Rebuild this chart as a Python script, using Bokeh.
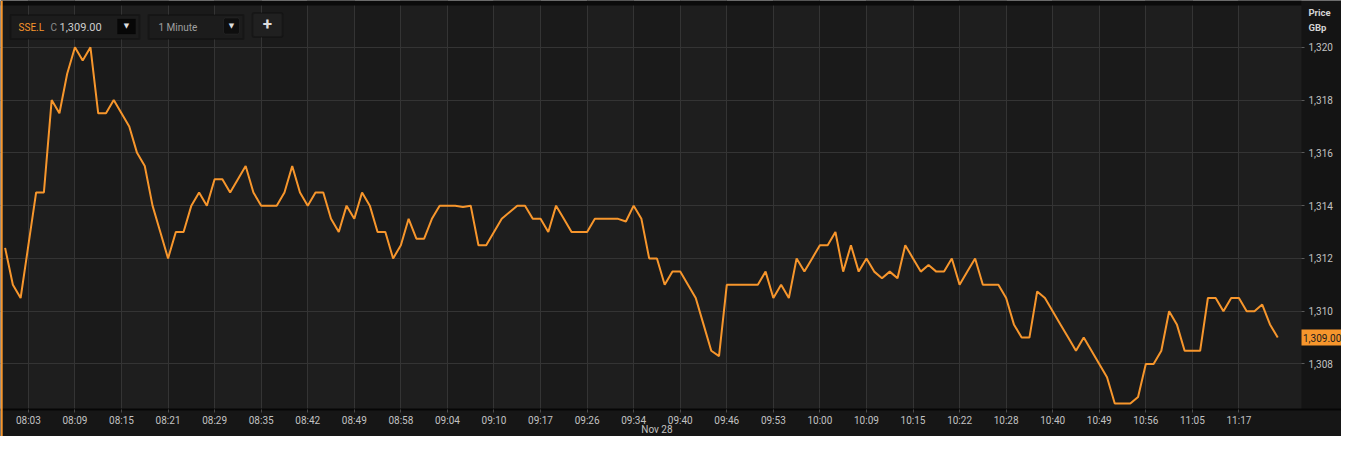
from bokeh.plotting import figure
from bokeh.models import (FixedTicker, NumeralTickFormatter, Label, BoxAnnotation, Span,
                          LinearAxis, Grid)
from bokeh.embed import file_html
from bokeh.resources import INLINE

# ---------------- data ----------------
symbol = "SSE.L"
interval_label = "1 Minute"
date_label = "Nov 28"
date_label_index = 84
unit_label = ["Price", "GBp"]

prices = [
    1312.4, 1311.0, 1310.5, 1312.5, 1314.5, 1314.5, 1318.0, 1317.5, 1319.0, 1320.0,
    1319.5, 1320.0, 1317.5, 1317.5, 1318.0, 1317.5, 1317.0, 1316.0, 1315.5, 1314.0,
    1313.0, 1312.0, 1313.0, 1313.0, 1314.0, 1314.5, 1314.0, 1315.0, 1315.0, 1314.5,
    1315.0, 1315.5, 1314.5, 1314.0, 1314.0, 1314.0, 1314.5, 1315.5, 1314.5, 1314.0,
    1314.5, 1314.5, 1313.5, 1313.0, 1314.0, 1313.5, 1314.5, 1314.0, 1313.0, 1313.0,
    1312.0, 1312.5, 1313.5, 1312.75, 1312.75, 1313.5, 1314.0, 1314.0, 1314.0, 1313.95,
    1314.0, 1312.5, 1312.5, 1313.0, 1313.5, 1313.75, 1314.0, 1314.0, 1313.5, 1313.5,
    1313.0, 1314.0, 1313.5, 1313.0, 1313.0, 1313.0, 1313.5, 1313.5, 1313.5, 1313.5,
    1313.4, 1314.0, 1313.5, 1312.0, 1312.0, 1311.0, 1311.5, 1311.5, 1311.0, 1310.5,
    1309.5, 1308.5, 1308.3, 1311.0, 1311.0, 1311.0, 1311.0, 1311.0, 1311.5, 1310.5,
    1311.0, 1310.5, 1312.0, 1311.5, 1312.0, 1312.5, 1312.5, 1313.0, 1311.5, 1312.5,
    1311.5, 1312.0, 1311.5, 1311.25, 1311.5, 1311.25, 1312.5, 1312.0, 1311.5, 1311.75,
    1311.5, 1311.5, 1312.0, 1311.0, 1311.5, 1312.0, 1311.0, 1311.0, 1311.0, 1310.5,
    1309.5, 1309.0, 1309.0, 1310.75, 1310.5, 1310.0, 1309.5, 1309.0, 1308.5, 1309.0,
    1308.5, 1308.0, 1307.5, 1306.5, 1306.5, 1306.5, 1306.75, 1308.0, 1308.0, 1308.5,
    1310.0, 1309.5, 1308.5, 1308.5, 1308.5, 1310.5, 1310.5, 1310.0, 1310.5, 1310.5,
    1310.0, 1310.0, 1310.25, 1309.5, 1309.0,
]

tick_labels = [
    "08:03", "08:09", "08:15", "08:21", "08:29", "08:35", "08:42", "08:49", "08:58",
    "09:04", "09:10", "09:17", "09:26", "09:34", "09:40", "09:46", "09:53", "10:00",
    "10:09", "10:15", "10:22", "10:28", "10:40", "10:49", "10:56", "11:05", "11:17",
]
first_tick_index = 3
bars_per_tick = 6

price_ticks = [1308, 1310, 1312, 1314, 1316, 1318, 1320]

# ---------------- derived ----------------
x = list(range(len(prices)))
tick_positions = [first_tick_index + bars_per_tick * i for i in range(len(tick_labels))]
last_price = prices[-1]

# ---------------- layout (pixels) ----------------
W, H = 1341, 436
PLOT_RIGHT_PX = 1301      # right edge of the price area
PLOT_BOTTOM_PX = 409      # bottom edge of the price area
PLOT_TOP_PX = 5
DATE_LABEL_PX = 428.5
X0_PX, PX_PER_BAR = 4.6, 7.76
YREF_PX, PX_PER_UNIT = 46.8, 26.39
YREF_VAL = price_ticks[-1]
MARKER_HALF_PX = 8


def xd(px):
    return (px - X0_PX) / PX_PER_BAR


def yd(py):
    return YREF_VAL - (py - YREF_PX) / PX_PER_UNIT


ORANGE = "#f7962c"
FONT = "Roboto"
LABEL_COLOR = "#c2c2c2"

p = figure(width=W, height=H, output_backend="svg", toolbar_location=None,
           x_range=(xd(0), xd(W)), y_range=(yd(H), yd(0)),
           x_axis_location=None, y_axis_location=None, min_border=0)
p.background_fill_color = "#1a1a1a"
p.border_fill_color = "#151515"
p.outline_line_color = None
for g in p.grid:
    g.visible = False

# alternating column bands (below the grid)
for k in range(0, len(tick_positions), 2):
    left = tick_positions[k]
    right = tick_positions[k + 1] if k + 1 < len(tick_positions) else xd(PLOT_RIGHT_PX)
    p.add_layout(BoxAnnotation(left=left, right=right, fill_color="#1e1e1e",
                               fill_alpha=1, line_alpha=0, level="image"))

# grids
p.add_layout(Grid(dimension=0, ticker=FixedTicker(ticks=tick_positions),
                  grid_line_color="#343434", level="underlay"))
p.add_layout(Grid(dimension=1, ticker=FixedTicker(ticks=price_ticks),
                  grid_line_color="#343434", level="underlay"))

# side strips (price scale area, time scale area, top strip)
p.add_layout(BoxAnnotation(left=xd(PLOT_RIGHT_PX), fill_color="#141414", fill_alpha=1,
                           line_alpha=0, level="underlay"))
p.add_layout(BoxAnnotation(top=yd(PLOT_BOTTOM_PX), fill_color="#161616", fill_alpha=1,
                           line_alpha=0, level="underlay"))
p.add_layout(BoxAnnotation(bottom=yd(PLOT_TOP_PX), right=xd(PLOT_RIGHT_PX),
                           fill_color="#0b0b0b", fill_alpha=1, line_alpha=0,
                           level="underlay"))

# time axis
xa = LinearAxis(fixed_location=yd(PLOT_BOTTOM_PX), ticker=FixedTicker(ticks=tick_positions))
xa.major_label_overrides = {t: lab for t, lab in zip(tick_positions, tick_labels)}
xa.axis_line_color = "#060606"
xa.axis_line_width = 2
xa.major_tick_line_color = "#4a4a4a"
xa.minor_tick_line_color = None
xa.major_tick_out = 3
xa.major_tick_in = 0
xa.major_label_standoff = 2
xa.major_label_text_color = LABEL_COLOR
xa.major_label_text_font = FONT
xa.major_label_text_font_size = "10px"
p.add_layout(xa, "below")

# price axis
ya = LinearAxis(fixed_location=xd(PLOT_RIGHT_PX), ticker=FixedTicker(ticks=price_ticks),
                formatter=NumeralTickFormatter(format="0,0"))
ya.axis_line_color = None
ya.major_tick_line_color = "#5a5a5a"
ya.major_tick_out = 3
ya.major_tick_in = 0
ya.minor_tick_line_color = None
ya.major_label_standoff = 4
ya.major_label_text_color = LABEL_COLOR
ya.major_label_text_font = FONT
ya.major_label_text_font_size = "10px"
p.add_layout(ya, "right")

# price line
p.line(x, prices, line_color=ORANGE, line_width=2)

# left accent
p.add_layout(Span(location=xd(1.2), dimension="height", line_color=ORANGE, line_width=2))

# date label under the time axis
p.add_layout(Label(x=date_label_index, y=H - DATE_LABEL_PX, y_units="screen", text=date_label,
                   text_align="center", text_baseline="middle", text_font=FONT,
                   text_font_size="10px", text_color=LABEL_COLOR))

# unit labels (top of price area)
for t, py in zip(unit_label, [12, 26.5]):
    p.add_layout(Label(x=PLOT_RIGHT_PX + 7, y=H - py, x_units="screen", y_units="screen",
                       text=t, text_align="left", text_baseline="middle", text_font=FONT,
                       text_font_size="9.5px", text_font_style="bold", text_color="#d4d4d4"))

# current price marker
p.add_layout(BoxAnnotation(left=xd(PLOT_RIGHT_PX),
                           top=last_price + MARKER_HALF_PX / PX_PER_UNIT,
                           bottom=last_price - MARKER_HALF_PX / PX_PER_UNIT,
                           fill_color=ORANGE, fill_alpha=1, line_alpha=0, level="annotation"))
p.add_layout(Label(x=PLOT_RIGHT_PX + 1.5, y=last_price, x_units="screen",
                   text=f"{last_price:,.2f}", text_align="left", text_baseline="middle",
                   text_font=FONT, text_font_size="10px", text_color="#1c1c1c"))


# top-left controls (screen coordinates)
def box(l, r, t, b, fill, line, lw=1.5, radius=0):
    p.add_layout(BoxAnnotation(left=l, right=r, top=H - t, bottom=H - b,
                               left_units="screen", right_units="screen",
                               top_units="screen", bottom_units="screen",
                               fill_color=fill, fill_alpha=1, line_color=line,
                               line_width=lw, border_radius=radius, level="annotation"))


def txt(xx, yy, t, color, size, style="normal", font=FONT, align="left"):
    p.add_layout(Label(x=xx, y=H - yy, x_units="screen", y_units="screen", text=t,
                       text_align=align, text_baseline="middle", text_font=font,
                       text_font_size=size, text_font_style=style, text_color=color))


box(10, 139, 14.5, 38.5, "#1c1c1c", "#070707", 2)
box(117, 135, 18.5, 33.5, "#070707", "#070707", 1)
txt(18, 26.5, symbol, ORANGE, "10px")
txt(50, 26.5, "C", "#8c8c8c", "10px")
txt(59, 26.5, f"{last_price:,.2f}", "#cdcdcd", "11px")
txt(126, 25.5, "\u25bc", "#dedede", "7px", font="DejaVu Sans", align="center")

box(148, 243, 14.5, 38.5, "#1c1c1c", "#070707", 2)
box(223, 239, 17.5, 33.5, "#0e0e0e", "#3a3a3a", 1, 2)
txt(158, 26.5, interval_label, "#a0a0a0", "10px")
txt(231, 25.5, "\u25bc", "#dedede", "7px", font="DejaVu Sans", align="center")

box(252, 282, 12.5, 36.5, "#202020", "#070707", 2, 2)
txt(267, 23.5, "+", "#dcdcdc", "17px", style="bold", align="center")

open("out.html", "w").write(file_html(p, INLINE))
